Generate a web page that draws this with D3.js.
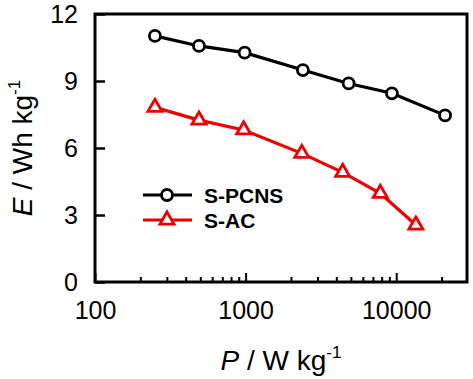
<!DOCTYPE html>
<html><head><meta charset="utf-8">
<script src="https://cdn.jsdelivr.net/npm/d3@7"></script>
<style>body{margin:0;background:#fff}svg{display:block}text{font-family:"Liberation Sans",Arial,sans-serif}</style>
</head><body><svg id="c" width="473" height="379"></svg>
<script>
const seriesNames = ["S-PCNS", "S-AC"];
const pcnsP = [250, 490, 985, 2400, 4830, 9360, 21100];
const pcnsE = [11.02, 10.57, 10.27, 9.49, 8.89, 8.45, 7.46];
const acP = [250, 490, 970, 2360, 4410, 7830, 13500];
const acE = [7.82, 7.25, 6.81, 5.76, 4.91, 3.97, 2.55];
const xTickLabels = [100, 1000, 10000];
const yTickLabels = [0, 3, 6, 9, 12];
const colors = ["#000000", "#ee0000"];

const svg = d3.select("#c");
const L = 95, R = 467, T = 14, B = 282;
const x = d3.scaleLog().domain([100, 29500]).range([L, R]);
const y = d3.scaleLinear().domain([0, 12]).range([B, T]);

const minor = [];
for (const d of [100, 1000, 10000]) for (let k = 2; k <= 9; k++) if (d * k < 29500) minor.push(d * k);

const g = svg.append("g");
g.append("g").attr("transform", `translate(0,${B})`)
  .call(d3.axisBottom(x).tickValues(minor).tickSize(-5).tickFormat(""))
  .call(s => s.select(".domain").remove())
  .call(s => s.selectAll("line").attr("stroke-width", 2));
g.append("g").attr("transform", `translate(0,${B})`)
  .call(d3.axisBottom(x).tickValues(xTickLabels).tickSize(-9).tickPadding(19).tickFormat(d3.format("d")))
  .call(s => s.select(".domain").remove())
  .call(s => s.selectAll("line").attr("stroke-width", 2))
  .call(s => s.selectAll("text").attr("font-size", 25).attr("fill", "#000"));
g.append("g").attr("transform", `translate(${L},0)`)
  .call(d3.axisLeft(y).tickValues(yTickLabels).tickSize(-10).tickPadding(17).tickFormat(d3.format("d")))
  .call(s => s.select(".domain").remove())
  .call(s => s.selectAll("line").attr("stroke-width", 2.5))
  .call(s => s.selectAll("text").attr("font-size", 25).attr("fill", "#000"));

svg.append("rect").attr("x", L).attr("y", T).attr("width", R - L).attr("height", B - T)
  .attr("fill", "none").attr("stroke", "#000").attr("stroke-width", 3);

const line = d3.line().x(d => x(d[0])).y(d => y(d[1]));
const dataSets = [d3.zip(pcnsP, pcnsE), d3.zip(acP, acE)];
const tri = d3.symbol().type(d3.symbolTriangle).size(85);

dataSets.forEach((ds, i) => {
  svg.append("path").datum(ds).attr("d", line).attr("fill", "none")
    .attr("stroke", colors[i]).attr("stroke-width", 3.2);
  const m = svg.append("g").selectAll("g").data(ds).join("g")
    .attr("transform", d => `translate(${x(d[0])},${y(d[1])})`);
  if (i === 0) m.append("circle").attr("r", 5.5).attr("fill", "#fff").attr("stroke", colors[i]).attr("stroke-width", 2.8);
  else m.append("path").attr("d", tri).attr("fill", "#fff").attr("stroke", colors[i]).attr("stroke-width", 2.8);
});

const leg = [[195, 0], [220, 1]];
leg.forEach(([ly, i]) => {
  svg.append("line").attr("x1", 143).attr("x2", 192).attr("y1", ly).attr("y2", ly)
    .attr("stroke", colors[i]).attr("stroke-width", 3.2);
  if (i === 0) svg.append("circle").attr("cx", 167).attr("cy", ly).attr("r", 5.5).attr("fill", "#fff").attr("stroke", colors[i]).attr("stroke-width", 2.8);
  else svg.append("path").attr("d", tri).attr("transform", `translate(167,${ly})`).attr("fill", "#fff").attr("stroke", colors[i]).attr("stroke-width", 2.8);
  svg.append("text").attr("x", 204).attr("y", ly + 7.5).attr("font-size", 21).attr("font-weight", "bold").text(seriesNames[i]);
});

const xt = svg.append("text").attr("x", 281).attr("y", 370).attr("text-anchor", "middle").attr("font-size", 28);
xt.append("tspan").attr("font-style", "italic").text("P");
xt.append("tspan").text(" / W kg");
xt.append("tspan").attr("font-size", 17).attr("dy", -12).text("-1");

const yt = svg.append("text").attr("transform", "translate(32,148) rotate(-90)").attr("text-anchor", "middle").attr("font-size", 28);
yt.append("tspan").attr("font-style", "italic").text("E");
yt.append("tspan").text(" / Wh kg");
yt.append("tspan").attr("font-size", 17).attr("dy", -12).text("-1");
</script></body></html>
